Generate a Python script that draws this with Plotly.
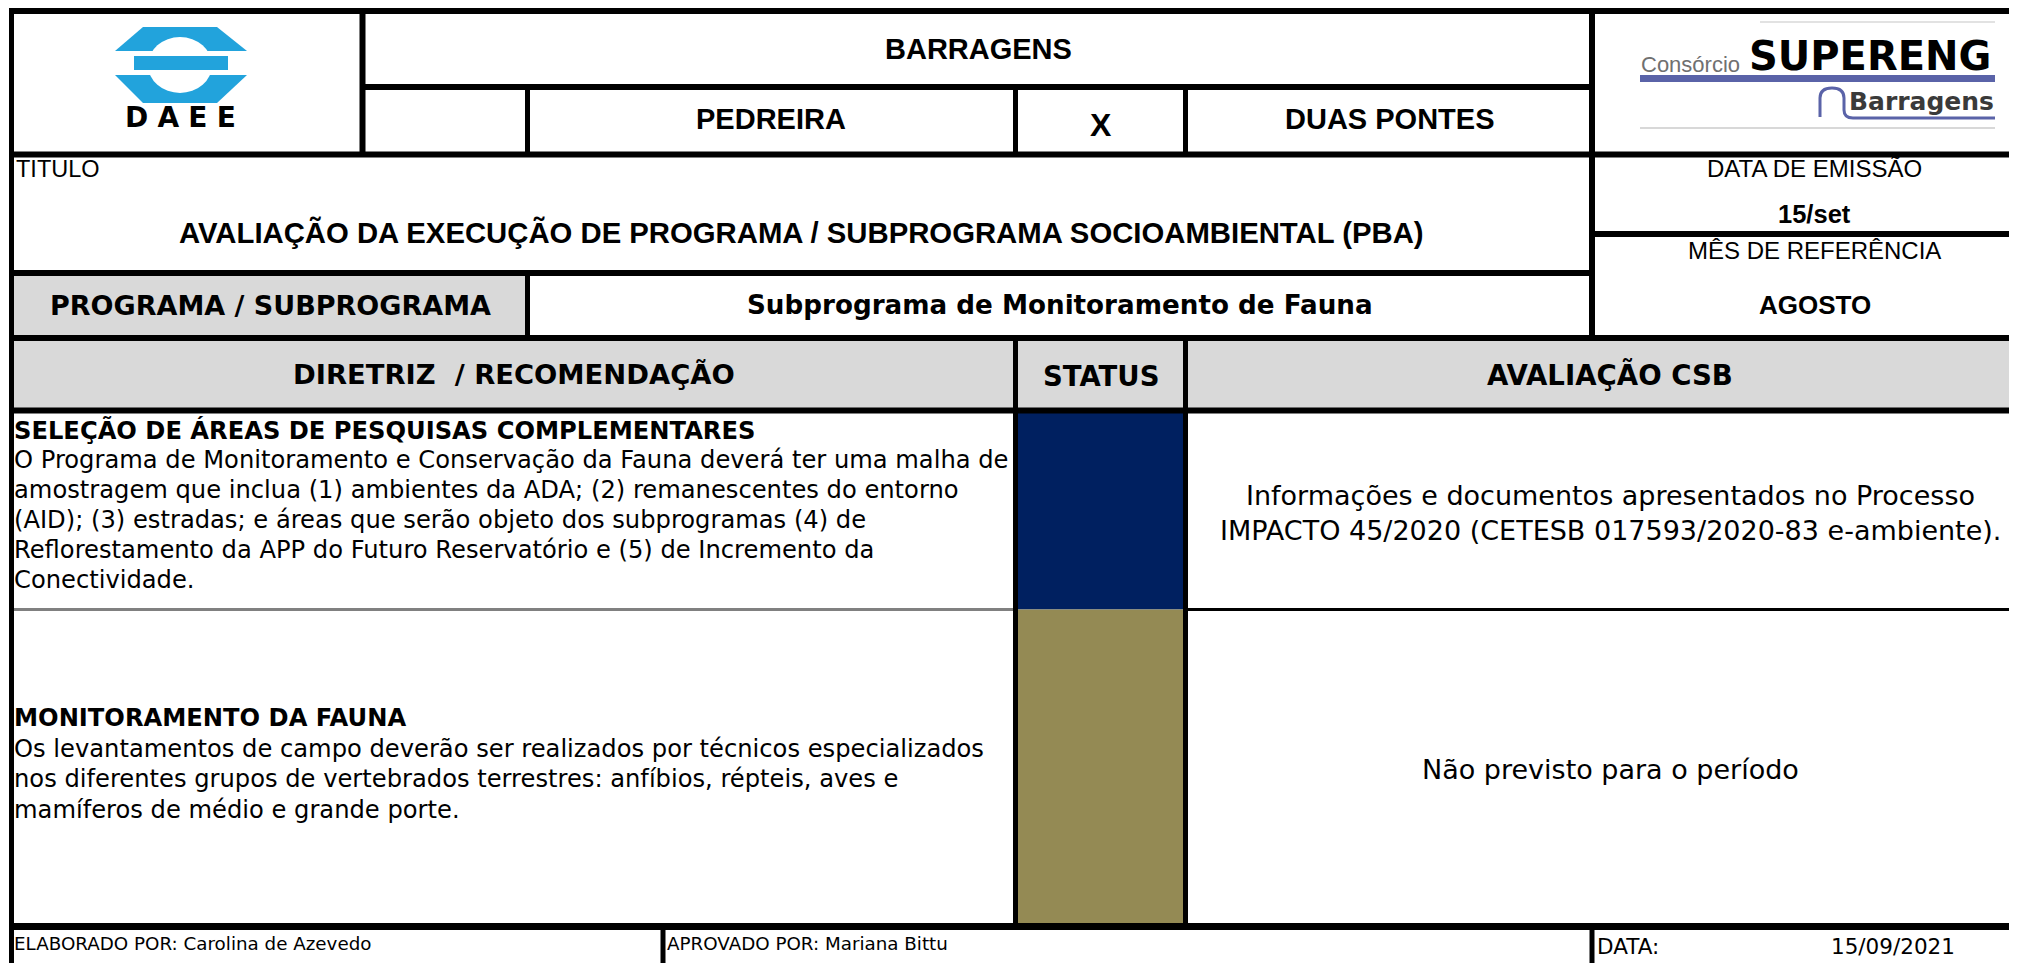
import plotly.graph_objects as go

# page body has an 8px margin; the figure fills the rest of the 2017x963 window
OFF = 8
W, H = 2017, 963

# ---------------- data (texts of the form) ----------------
obra_labels = ["BARRAGENS", "PEDREIRA", "X", "DUAS PONTES"]
titulo_label = "TITULO"
titulo_text = "AVALIAÇÃO DA EXECUÇÃO DE PROGRAMA / SUBPROGRAMA SOCIOAMBIENTAL (PBA)"
emissao_label = "DATA DE EMISSÃO"
emissao_value = "15/set"
referencia_label = "MÊS DE REFERÊNCIA"
referencia_value = "AGOSTO"
programa_label = "PROGRAMA / SUBPROGRAMA"
programa_value = "Subprograma de Monitoramento de Fauna"
column_headers = ["DIRETRIZ\u00a0\u00a0/ RECOMENDAÇÃO", "STATUS", "AVALIAÇÃO CSB"]
diretriz_titles = ["SELEÇÃO DE ÁREAS DE PESQUISAS COMPLEMENTARES",
                   "MONITORAMENTO DA FAUNA"]
diretriz_lines = [
    ["O Programa de Monitoramento e Conservação da Fauna deverá ter uma malha de",
     "amostragem que inclua (1) ambientes da ADA; (2) remanescentes do entorno",
     "(AID); (3) estradas; e áreas que serão objeto dos subprogramas (4) de",
     "Reflorestamento da APP do Futuro Reservatório e (5) de Incremento da",
     "Conectividade."],
    ["Os levantamentos de campo deverão ser realizados por técnicos especializados",
     "nos diferentes grupos de vertebrados terrestres: anfíbios, répteis, aves e",
     "mamíferos de médio e grande porte."],
]
status_colors = ["#002060", "#948A54"]
avaliacao_lines = [
    ["Informações e documentos apresentados no Processo",
     "IMPACTO 45/2020 (CETESB 017593/2020-83 e-ambiente)."],
    ["Não previsto para o período"],
]
footer_left = ["ELABORADO POR: Carolina de Azevedo", "APROVADO POR: Mariana Bittu"]
footer_right = ["DATA:", "15/09/2021"]
logo_left_text = "D\u2004A\u2004E\u2004E"
logo_right_texts = ["Consórcio", "SUPERENG", "Barragens"]

# ---------------- geometry (window pixels) ----------------
XL, XLOGO, XSMALL, XSL, XSR, XRC, XFOOT, XE = 11.5, 362.5, 527.5, 1015.5, 1185.5, 1592, 663, 2030
YT, YOBRA, YHEAD, YEMI, YTIT, YPROG, YCOLH, YR1, YR2, YB = 11, 87, 154.5, 234, 273, 338, 410.5, 609.5, 926.5, 970

ARIAL = "Liberation Sans, Arial, sans-serif"
VERD = "DejaVu Sans, Verdana, sans-serif"

fig = go.Figure()
fig.add_trace(go.Scatter(x=[], y=[], showlegend=False))

shapes = []


def rect(x0, y0, x1, y1, color, layer="below"):
    shapes.append(dict(type="rect", xref="x", yref="y", x0=x0, y0=y0, x1=x1, y1=y1,
                       fillcolor=color, line=dict(width=0), layer=layer))


def line(x0, y0, x1, y1, w, color="#000000"):
    shapes.append(dict(type="line", xref="x", yref="y", x0=x0, y0=y0, x1=x1, y1=y1,
                       line=dict(color=color, width=w), layer="above"))


# fills
rect(XL, YTIT, XSMALL, YPROG, "#D9D9D9")
rect(XL, YPROG, XE, YCOLH, "#D9D9D9")
rect(XSL, YCOLH, XSR, YR1, status_colors[0])
rect(XSL, YR1, XSR, YR2, status_colors[1])

# horizontal rules
line(9, YT, XE, YT, 6)
line(XLOGO, YOBRA, XRC, YOBRA, 6)
line(9, YHEAD, XE, YHEAD, 6)
line(XRC, YEMI, XE, YEMI, 6)
line(9, YTIT, XRC, YTIT, 6)
line(9, YPROG, XE, YPROG, 6)
line(9, YCOLH, XE, YCOLH, 6)
line(9, YR1, XSL, YR1, 3, "#808080")
line(XSR, YR1, XE, YR1, 3)
line(9, YR2, XE, YR2, 7)
# vertical rules
line(XL, 8, XL, YB, 5)
line(XLOGO, YT, XLOGO, YHEAD, 6)
line(XSMALL, YOBRA, XSMALL, YHEAD, 5)
line(XSMALL, YTIT, XSMALL, YPROG, 5)
for xx in (XSL, XSR):
    line(xx, YOBRA, xx, YHEAD, 5)
    line(xx, YPROG, xx, YR2, 5)
line(XRC, YT, XRC, YPROG, 6)
line(XFOOT, YR2, XFOOT, YB, 5)
line(XRC, YR2, XRC, YB, 5)

# ---- DAEE logo (drawn shapes) ----
BLUE = "#22A3DC"
shapes.append(dict(type="path", xref="x", yref="y", path="M 143 27 L 217 27 L 247 51 L 115 51 Z",
                   fillcolor=BLUE, line=dict(width=0), layer="below"))
shapes.append(dict(type="path", xref="x", yref="y", path="M 115 75 L 247 75 L 217 103 L 143 103 Z",
                   fillcolor=BLUE, line=dict(width=0), layer="below"))
shapes.append(dict(type="circle", xref="x", yref="y", x0=148, y0=37, x1=212, y1=93,
                   fillcolor="#FFFFFF", line=dict(width=0), layer="below"))
shapes.append(dict(type="rect", xref="x", yref="y", x0=134, y0=56, x1=228, y1=70,
                   fillcolor=BLUE, line=dict(width=0), layer="below"))

# ---- SUPERENG logo (drawn shapes) ----
LOGOBLUE = "#5A63A8"
rect(1640, 75, 1995, 82, LOGOBLUE)
shapes.append(dict(type="path", xref="x", yref="y",
                   path="M 1820 117 L 1820 98 Q 1820 88 1832 88 Q 1844 88 1844 98 L 1844 110 Q 1844 118 1853 118 L 1995 118",
                   line=dict(color=LOGOBLUE, width=3), layer="below"))
line(1640, 128, 1995, 128, 2, "#D8D8D8")
line(1760, 22, 1995, 22, 2, "#E2E2E2")

fig.update_layout(shapes=shapes)

ann = []


def text(x, y, s, size, family, xanchor="center", color="#000000"):
    ann.append(dict(x=x, y=y, xref="x", yref="y", text=s, showarrow=False,
                    xanchor=xanchor, yanchor="middle", align="left" if xanchor == "left" else "center",
                    font=dict(size=size, family=family, color=color)))


# logos text
text(180, 117, "<b>" + logo_left_text + "</b>", 28, VERD)
text(1690, 64, logo_right_texts[0], 22, ARIAL, color="#707070")
text(1870, 56, "<b>" + logo_right_texts[1] + "</b>", 40, VERD)
text(1921, 101, "<b>" + logo_right_texts[2] + "</b>", 25, VERD, color="#3A3A3A")

# header
text(978, 48.5, "<b>" + obra_labels[0] + "</b>", 29, ARIAL)
text(771, 119, "<b>" + obra_labels[1] + "</b>", 29, ARIAL)
text(1100.5, 124.5, "<b>" + obra_labels[2] + "</b>", 32, ARIAL)
text(1389, 119, "<b>" + obra_labels[3] + "</b>", 29, ARIAL)
text(14, 169, titulo_label, 23.5, ARIAL, xanchor="left")
text(801, 232.5, "<b>" + titulo_text + "</b>", 29.3, ARIAL)
text(1814, 168, emissao_label, 24, ARIAL)
text(1814, 213.5, "<b>" + emissao_value + "</b>", 25.5, ARIAL)
text(1814, 250, referencia_label, 24, ARIAL)
text(1815, 305, "<b>" + referencia_value + "</b>", 26, ARIAL)
text(270, 305, "<b>" + programa_label + "</b>", 27, VERD)
text(1060, 305, "<b>" + programa_value + "</b>", 26.2, VERD)
text(514, 374.5, "<b>" + column_headers[0] + "</b>", 27.4, VERD)
text(1100.5, 375.5, "<b>" + column_headers[1] + "</b>", 27.5, VERD)
text(1610, 375, "<b>" + column_headers[2] + "</b>", 27.6, VERD)

# body rows
row_first_y = [430, 718]
row_step = [30, 30.5]
for i in range(2):
    lines_i = ["<b>" + diretriz_titles[i] + "</b>"] + diretriz_lines[i]
    for k, s in enumerate(lines_i):
        text(12, row_first_y[i] + k * row_step[i], s, 24.2, VERD, xanchor="left")

aval_y = [[495.5, 530.5], [769]]
for i in range(2):
    for k, s in enumerate(avaliacao_lines[i]):
        text(1610, aval_y[i][k], s, 27, VERD)

# footer
text(12, 943, footer_left[0], 18.3, VERD, xanchor="left")
text(665, 943, footer_left[1], 18.3, VERD, xanchor="left")
text(1595, 946, footer_right[0], 21.5, VERD, xanchor="left")
text(1829, 946, footer_right[1], 21.5, VERD, xanchor="left")

fig.update_layout(
    annotations=ann,
    width=W - OFF, height=H - OFF, autosize=False,
    margin=dict(l=0, r=0, t=0, b=0, pad=0),
    paper_bgcolor="#FFFFFF", plot_bgcolor="#FFFFFF",
    xaxis=dict(range=[OFF, W], visible=False, fixedrange=True),
    yaxis=dict(range=[H, OFF], visible=False, fixedrange=True),
    showlegend=False,
)
fig.write_html("out.html", config={"displayModeBar": False})
